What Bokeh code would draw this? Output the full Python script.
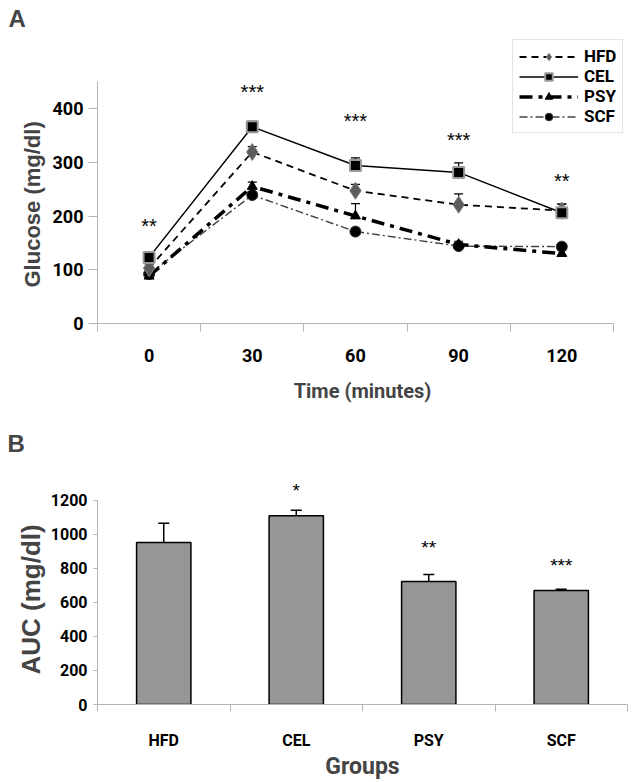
from bokeh.plotting import figure
from bokeh.models import (ColumnDataSource, Whisker, TeeHead, FixedTicker, Legend, LegendItem,
                          Range1d, Title)
from bokeh.layouts import column
from bokeh.embed import file_html
from bokeh.resources import INLINE
from bokeh.core.properties import value

# ---------------- data ----------------
times = [0, 30, 60, 90, 120]
hfd = [103, 319, 247, 221, 210]
cel = [123, 366, 294, 281, 206]
psy = [88, 255, 200, 147, 130]
scf = [92, 239, 171, 144, 143]
hfd_err = [8, 10, 12, 20, 12]
cel_err = [8, 10, 14, 18, 16]
psy_err = [6, 8, 23, 6, 6]
scf_err = [5, 6, 6, 5, 5]
top_star_text = ["**", "***", "***", "***", "**"]
top_star_y = [185, 434, 380, 346, 268]
y_ticks_top = [0, 100, 200, 300, 400]

groups = ["HFD", "CEL", "PSY", "SCF"]
group_pos = [1, 2, 3, 4]
auc = [952, 1108, 722, 669]
auc_err = [112, 33, 42, 8]
bot_star_pos = [2, 3, 4]
bot_star_text = ["*", "**", "***"]
bot_star_y = [1267, 935, 827]
y_ticks_bot = [0, 200, 400, 600, 800, 1000, 1200]

COND = "Roboto"
SANS = "Liberation Sans"
AXIS_GRAY = "#b4b4b4"

# ---------------- panel A ----------------
p1 = figure(width=639, height=416, output_backend="svg", toolbar_location=None,
            x_range=Range1d(-15, 139.1), y_range=Range1d(0, 541.4),
            min_border_left=96, min_border_right=12, min_border_top=32, min_border_bottom=93)
p1.outline_line_color = None
p1.grid.visible = False
p1.title.text = "A"
p1.title.text_font = SANS
p1.title.text_font_style = "bold"
p1.title.text_font_size = "24px"
p1.title.align = "left"
p1.title.offset = -89
p1.title.standoff = 2

xa = p1.xaxis[0]
xa.ticker = FixedTicker(ticks=times, minor_ticks=[-15, 15, 45, 75, 105, 135])
xa.bounds = (-15, 135)
xa.major_tick_in = 0
xa.major_tick_out = 0
xa.minor_tick_in = 0
xa.minor_tick_out = 8
xa.minor_tick_line_color = AXIS_GRAY
xa.axis_line_color = AXIS_GRAY
xa.major_label_text_font = COND
xa.major_label_text_font_style = "bold"
xa.major_label_text_font_size = "18px"
xa.major_label_text_color = "black"
xa.major_label_standoff = 17
xa.axis_label = "Time (minutes)"
xa.axis_label_text_font = COND
xa.axis_label_text_font_style = "bold"
xa.axis_label_text_font_size = "20px"
xa.axis_label_standoff = 14

ya = p1.yaxis[0]
ya.ticker = FixedTicker(ticks=y_ticks_top, minor_ticks=[])
ya.bounds = (0, 450)
ya.major_tick_in = 0
ya.major_tick_out = 9
ya.minor_tick_out = 0
ya.minor_tick_in = 0
ya.major_tick_line_color = AXIS_GRAY
ya.axis_line_color = AXIS_GRAY
ya.major_label_text_font = COND
ya.major_label_text_font_style = "bold"
ya.major_label_text_font_size = "18px"
ya.major_label_text_color = "black"
ya.major_label_standoff = 5

p1.add_layout(Title(text="Glucose (mg/dl)", align="left", offset=36,
                    text_font=SANS, text_font_style="bold", text_font_size="22px",
                    standoff=10), "left")

src = ColumnDataSource(dict(t=times, hfd=hfd, cel=cel, psy=psy, scf=scf,
                            hfd_u=[a + b for a, b in zip(hfd, hfd_err)],
                            cel_u=[a + b for a, b in zip(cel, cel_err)],
                            psy_u=[a + b for a, b in zip(psy, psy_err)],
                            scf_u=[a + b for a, b in zip(scf, scf_err)]))

for key in ["scf", "psy", "hfd", "cel"]:
    w = Whisker(source=src, base="t", lower=key, upper=key + "_u", dimension="height",
                line_color="black", line_width=1.2,
                upper_head=TeeHead(size=9, line_color="black", line_width=1.2), lower_head=None)
    p1.add_layout(w)

l_scf = p1.line("t", "scf", source=src, line_color="#404040", line_width=1.4, line_dash="8 3 2 3")
m_scf = p1.scatter("t", "scf", source=src, marker="circle", size=11, fill_color="black",
                   line_color="#303030")
l_psy = p1.line("t", "psy", source=src, line_color="black", line_width=3.5, line_dash="13 6 4 6")
m_psy = p1.scatter("t", "psy", source=src, marker="triangle", size=10, fill_color="black",
                   line_color="black")
l_hfd = p1.line("t", "hfd", source=src, line_color="black", line_width=1.8, line_dash="7 5")
m_hfd = p1.scatter("t", "hfd", source=src, marker="diamond", size=17, fill_color="#5c5c5c",
                   line_color="#808080", line_width=1)
l_cel = p1.line("t", "cel", source=src, line_color="black", line_width=1.4)
m_cel = p1.scatter("t", "cel", source=src, marker="square", size=11, fill_color="black",
                   line_color="#9a9a9a", line_width=2)

p1.text(x=times, y=top_star_y, text=top_star_text, text_font=value(SANS),
        text_font_size="20px", text_align="center", text_baseline="middle", y_offset=2,
        text_color="black")

legend = Legend(items=[
    LegendItem(label="HFD", renderers=[l_hfd, m_hfd]),
    LegendItem(label="CEL", renderers=[l_cel, m_cel]),
    LegendItem(label="PSY", renderers=[l_psy, m_psy]),
    LegendItem(label="SCF", renderers=[l_scf, m_scf]),
], location=(415, 190))
legend.glyph_width = 59
legend.glyph_height = 19
legend.label_height = 19
legend.spacing = 0
legend.padding = 6
legend.margin = 0
legend.label_standoff = 6
legend.label_text_font = COND
legend.label_text_font_style = "bold"
legend.label_text_font_size = "17px"
legend.label_text_color = "black"
legend.label_text_baseline = "middle"
legend.border_line_color = "#c8c8c8"
legend.border_line_width = 1.5
legend.background_fill_color = "white"
legend.background_fill_alpha = 1
p1.add_layout(legend)

# ---------------- panel B ----------------
p2 = figure(width=639, height=366, output_backend="svg", toolbar_location=None,
            x_range=Range1d(0.5, 4.5), y_range=Range1d(0, 1433),
            min_border_left=97, min_border_right=5, min_border_top=44, min_border_bottom=72)
p2.outline_line_color = None
p2.grid.visible = False
p2.title.text = "B"
p2.title.text_font = SANS
p2.title.text_font_style = "bold"
p2.title.text_font_size = "24px"
p2.title.align = "left"
p2.title.offset = -90
p2.title.standoff = 8

xb = p2.xaxis[0]
xb.ticker = FixedTicker(ticks=group_pos, minor_ticks=[0.5, 1.5, 2.5, 3.5, 4.5])
xb.major_label_overrides = {pos: g for pos, g in zip(group_pos, groups)}
xb.major_tick_in = 0
xb.major_tick_out = 0
xb.minor_tick_in = 0
xb.minor_tick_out = 7
xb.minor_tick_line_color = AXIS_GRAY
xb.axis_line_color = AXIS_GRAY
xb.major_label_text_font = COND
xb.major_label_text_font_style = "bold"
xb.major_label_text_font_size = "16px"
xb.major_label_text_color = "black"
xb.major_label_standoff = 19
xb.axis_label = "Groups"
xb.axis_label_text_font = COND
xb.axis_label_text_font_style = "bold"
xb.axis_label_text_font_size = "23px"
xb.axis_label_standoff = 0

yb = p2.yaxis[0]
yb.ticker = FixedTicker(ticks=y_ticks_bot, minor_ticks=[])
yb.bounds = (0, 1200)
yb.major_tick_in = 0
yb.major_tick_out = 4
yb.minor_tick_in = 0
yb.minor_tick_out = 0
yb.major_tick_line_color = AXIS_GRAY
yb.axis_line_color = AXIS_GRAY
yb.major_label_text_font = COND
yb.major_label_text_font_style = "bold"
yb.major_label_text_font_size = "16px"
yb.major_label_text_color = "black"
yb.major_label_standoff = 6

p2.add_layout(Title(text="AUC (mg/dl)", align="left", offset=30,
                    text_font=SANS, text_font_style="bold", text_font_size="26px",
                    standoff=3), "left")

src2 = ColumnDataSource(dict(x=group_pos, auc=auc, upper=[a + e for a, e in zip(auc, auc_err)]))
p2.vbar(x="x", top="auc", width=0.41, source=src2, fill_color="#969696",
        line_color="black", line_width=1.5)
wb = Whisker(source=src2, base="x", lower="auc", upper="upper", dimension="height",
             line_color="black", line_width=1.5, level="overlay",
             upper_head=TeeHead(size=11, line_color="black", line_width=1.5), lower_head=None)
p2.add_layout(wb)
p2.text(x=bot_star_pos, y=bot_star_y, text=bot_star_text, text_font=value(SANS),
        text_font_size="19px", text_align="center", text_baseline="middle", y_offset=2,
        text_color="black")

layout = column(p1, p2, spacing=0)
open("out.html", "w").write(file_html(layout, INLINE))
